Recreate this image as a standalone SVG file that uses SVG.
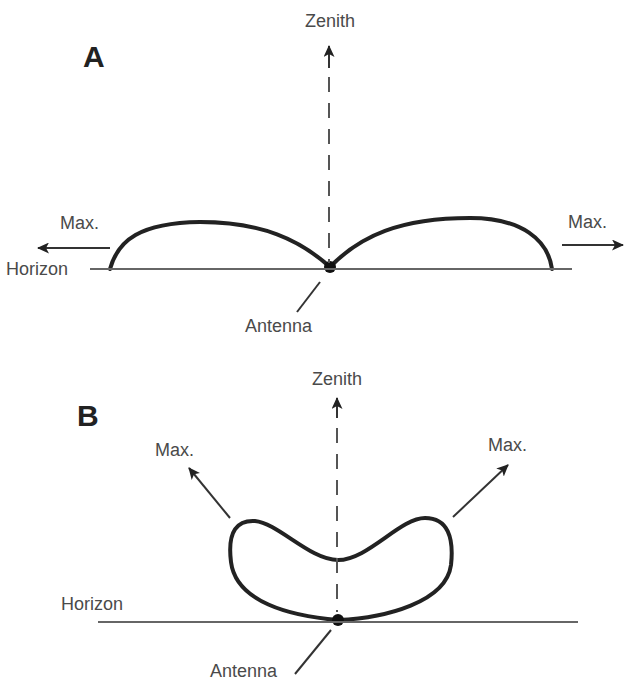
<svg xmlns="http://www.w3.org/2000/svg" width="624" height="682" viewBox="0 0 624 682">
<defs>
<style>
.t{font-family:"Liberation Sans",Arial,sans-serif;font-size:18px;fill:#4a4a4a}
.big{font-family:"Liberation Sans",Arial,sans-serif;font-size:30px;font-weight:bold;fill:#222}
.hz{stroke:#666;stroke-width:2;fill:none}
.dash{stroke:#555;stroke-width:2;stroke-dasharray:15 11;fill:none}
.lobe{stroke:#222;stroke-width:4;fill:none;stroke-linecap:round}
.arr{stroke:#333;stroke-width:2;fill:none}
.lead{stroke:#333;stroke-width:2;fill:none}
</style>
<marker id="ah" viewBox="0 0 12 11" refX="11" refY="5.5" markerWidth="12" markerHeight="11" markerUnits="userSpaceOnUse" orient="auto">
<path d="M0,0 L12,5.5 L0,11 L3,5.5 Z" fill="#222"/>
</marker>
</defs>

<g id="panelA">
<g id="labelA"><text class="big" x="83" y="67">A</text></g>
<g id="zenithA"><text class="t" x="330" y="27" text-anchor="middle">Zenith</text></g>
<g id="horizonA"><text class="t" x="6" y="275">Horizon</text></g>
<g id="maxLeftA"><text class="t" x="60" y="229">Max.</text></g>
<g id="maxRightA"><text class="t" x="568" y="228">Max.</text></g>
<g id="antennaLabelA"><text class="t" x="245" y="332">Antenna</text></g>
<g id="patternA">
<path class="lobe" d="M110,269 C118,240 140,223 200,222 C262,222 300,240 330,267"/>
<path class="lobe" d="M330,267 C360,236 400,218 470,218 C522,218 548,240 552,269"/>
</g>
<g id="antennaA"><circle cx="330" cy="267" r="6" fill="#111"/></g>
</g>

<g id="panelB">
<g id="labelB"><text class="big" x="77" y="426">B</text></g>
<g id="zenithB"><text class="t" x="337" y="385" text-anchor="middle">Zenith</text></g>
<g id="horizonB"><text class="t" x="61" y="610">Horizon</text></g>
<g id="maxLeftB"><text class="t" x="155" y="456">Max.</text></g>
<g id="maxRightB"><text class="t" x="488" y="451">Max.</text></g>
<g id="antennaLabelB"><text class="t" x="210" y="677">Antenna</text></g>
<g id="patternB">
<path class="lobe" d="M338,620 C290,616 236,602 231,562 C227,530 238,520 255,521 C278,523 310,560 338,560 C368,560 400,518 425,518 C448,518 454,538 451,565 C446,602 386,618 338,620 Z"/>
</g>
<g id="antennaB"><circle cx="338" cy="620" r="6" fill="#111"/></g>
</g>

<g id="connectors">
<line class="hz" x1="90" y1="269" x2="572" y2="269"/>
<path class="dash" d="M329,77 L329,263"/>
<line class="arr" x1="329" y1="68" x2="329" y2="46" marker-end="url(#ah)"/>
<line class="arr" x1="110" y1="248" x2="38" y2="248" marker-end="url(#ah)"/>
<line class="arr" x1="562" y1="245" x2="623" y2="245" marker-end="url(#ah)"/>
<line class="lead" x1="320" y1="282" x2="297" y2="312"/>

<line class="hz" x1="98" y1="622" x2="578" y2="622"/>
<path class="dash" d="M337,428 L337,612"/>
<line class="arr" x1="337" y1="418" x2="337" y2="398" marker-end="url(#ah)"/>
<line class="arr" x1="230" y1="518" x2="189" y2="468" marker-end="url(#ah)"/>
<line class="arr" x1="453" y1="517" x2="508" y2="465" marker-end="url(#ah)"/>
<line class="lead" x1="331" y1="630" x2="295" y2="674"/>
</g>
</svg>
